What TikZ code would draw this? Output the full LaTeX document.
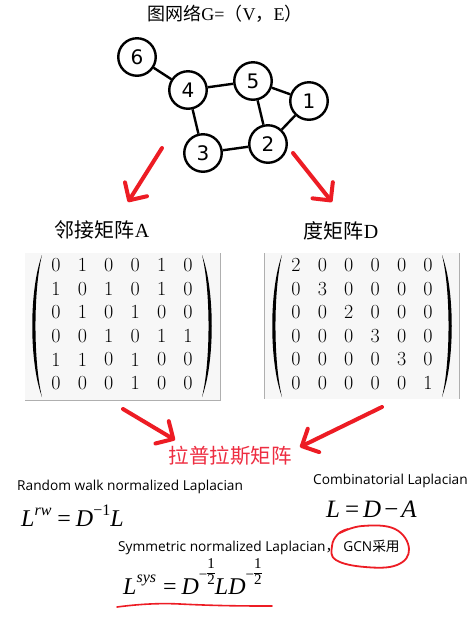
\documentclass[tikz,border=0pt]{standalone}
\usepackage{fontspec}
\usetikzlibrary{arrows.meta}
\newfontfamily\cjk{Noto Sans CJK SC}
\newfontfamily\tnr{Liberation Serif}
\newfontfamily\osans{Open Sans}
\newfontfamily\dejavu{DejaVu Sans}
\definecolor{paintred}{RGB}{237,28,36}
\definecolor{lapred}{RGB}{238,45,65}
\definecolor{boxfill}{RGB}{247,247,247}
\definecolor{boxline}{RGB}{175,175,175}
\newcommand\mi[1]{{\tnr\itshape #1}}
\newcommand\supr[2]{\raisebox{#1}{\fontsize{16}{16}\selectfont #2}}
\newcommand\halffr{\raisebox{15pt}{\fontsize{15}{15}\selectfont\tnr −}\raisebox{10pt}{\fontsize{15}{15}\selectfont\tnr\setlength\arrayrulewidth{0.8pt}\begin{tabular}[b]{@{}c@{}}1\\\hline 2\end{tabular}}}
\begin{document}
\begin{tikzpicture}[x=1pt,y=-1pt,
  vertex/.style={circle,draw=black,line width=2.4pt,fill=white,minimum size=37.5pt,inner sep=0pt,font=\dejavu\fontsize{20}{20}\selectfont},
  gedge/.style={line width=2.4pt},
  redarrow/.style={paintred,line width=4pt,line cap=round,-{Straight Barb[length=13pt,width=26pt,line cap=round,round]}},
  entry/.style={inner sep=0pt,font=\fontsize{20}{20}\selectfont},
  cjklabel/.style={inner sep=0pt,font=\cjk\fontsize{20}{20}\selectfont},
  sanslabel/.style={inner sep=0pt,anchor=base west,font=\osans\fontsize{13.7}{14}\selectfont},
  formula/.style={inner sep=0pt,anchor=base west,font=\tnr\fontsize{24}{24}\selectfont},
  paren/.style={fill=black}
]
\useasboundingbox (0,0) rectangle (474,625);
\fill[white] (0,0) rectangle (474,625);

% title
\node[inner sep=0pt,font=\cjk\fontsize{18}{18}\selectfont] (title) at (225,14) {图网络{\tnr G=}（{\tnr V}，{\tnr E}）};

% graph
\node[vertex] (n6) at (137,57) {6};
\node[vertex] (n4) at (188,90) {4};
\node[vertex] (n5) at (253,81) {5};
\node[vertex] (n1) at (309,101) {1};
\node[vertex] (n2) at (268,144) {2};
\node[vertex] (n3) at (203,153) {3};
\draw[gedge] (n6) -- (n4);
\draw[gedge] (n4) -- (n5);
\draw[gedge] (n5) -- (n1);
\draw[gedge] (n5) -- (n2);
\draw[gedge] (n1) -- (n2);
\draw[gedge] (n4) -- (n3);
\draw[gedge] (n3) -- (n2);

% top arrows
\coordinate (a1s) at (162,148); \coordinate (a1e) at (128,202);
\coordinate (a2s) at (293,153); \coordinate (a2e) at (332,202);
\draw[redarrow] (a1s) -- (a1e);
\draw[redarrow] (a2s) -- (a2e);

% labels
\node[cjklabel] (labA) at (102,230) {邻接矩阵{\tnr A}};
\node[cjklabel] (labD) at (341,231) {度矩阵{\tnr D}};

% matrix boxes
\fill[boxfill] (25,253) rectangle (220,400);
\draw[boxline,line width=0.8pt] (220,253) -- (220,400) -- (25,400);
\fill[boxfill] (264,253) rectangle (459,399);
\draw[boxline,line width=0.8pt] (264,253) -- (264,399);
\draw[boxline,line width=0.8pt] (459,253) -- (459,399);

% parentheses
\foreach \dx in {0,240}{
  \fill[paren,xshift=\dx] (42,255) .. controls (29,290) and (29,362) .. (42,397)
        .. controls (33.3,362) and (33.3,290) .. (42,255) -- cycle;
  \fill[paren,xshift=\dx] (202,255) .. controls (215,290) and (215,362) .. (202,397)
        .. controls (210.7,362) and (210.7,290) .. (202,255) -- cycle;
}

% matrix A
\foreach \row [count=\i] in {{0,1,0,0,1,0},{1,0,1,0,1,0},{0,1,0,1,0,0},{0,0,1,0,1,1},{1,1,0,1,0,0},{0,0,0,1,0,0}}{
  \foreach \v [count=\j] in \row {
    \node[entry] (A-\i-\j) at ({56+(\j-1)*26.4},{265+(\i-1)*23.6}) {\v};
  }
}
% matrix D
\foreach \row [count=\i] in {{2,0,0,0,0,0},{0,3,0,0,0,0},{0,0,2,0,0,0},{0,0,0,3,0,0},{0,0,0,0,3,0},{0,0,0,0,0,1}}{
  \foreach \v [count=\j] in \row {
    \node[entry] (D-\i-\j) at ({296+(\j-1)*26.4},{265+(\i-1)*23.6}) {\v};
  }
}

% Laplacian title
\node[inner sep=0pt,text=lapred,font=\cjk\fontsize{20.5}{20.5}\selectfont] (lap) at (230,456) {拉普拉斯矩阵};
\coordinate (a3s) at (123,409); \coordinate (a3e) at (175,440);
\coordinate (a4s) at (382,407); \coordinate (a4e) at (300,447);
\draw[redarrow] (a3s) -- (a3e);
\draw[redarrow] (a4s) -- (a4e);

% texts
\node[sanslabel] (rw) at (17,490) {Random walk normalized Laplacian};
\node[sanslabel] (comb) at (313,484) {Combinatorial Laplacian};
\node[sanslabel] (sym) at (118,551) {Symmetric normalized Laplacian{\cjk ，}\hspace{4pt}GCN{\cjk 采用}};

% formulas
\node[formula] (frw) at (21,526) {\mi{L}\supr{11pt}{\mi{rw}}\hspace{6pt}=\hspace{5pt}\mi{D}\supr{11pt}{−1}\mi{L}};
\node[formula,font=\tnr\fontsize{25}{25}\selectfont] (fcomb) at (326,517) {\mi{L}\hspace{5pt}=\hspace{4pt}\mi{D}\hspace{3pt}−\hspace{3pt}\mi{A}};
\node[formula] (fsys) at (123,594) {\mi{L}\supr{12pt}{\mi{sys}}\hspace{7pt}=\hspace{5pt}\mi{D}\halffr\mi{LD}\halffr};

% red marks
\draw[paintred,line width=1.8pt,line cap=round] plot[smooth,tension=0.7] coordinates {(340,533) (362,526) (395,529) (409,549) (397,565) (365,567) (336,560) (332,546) (338,534) (348,529)};
\draw[paintred,line width=1.6pt,line cap=round] (117,607) .. controls (140,604) and (160,603) .. (180,604) .. controls (220,606) and (250,606) .. (272,606);
\end{tikzpicture}
\end{document}
